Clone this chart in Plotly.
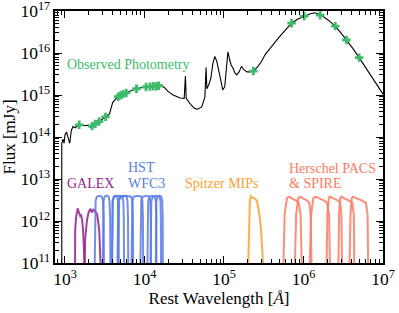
import plotly.graph_objects as go

# model SED (rest wavelength in Angstrom, flux in mJy)
sed_wave = [912, 912, 944, 977, 1000, 1047, 1096, 1148, 1202, 1259, 1349, 1479, 1585,
            1778, 1995, 2138, 2239, 2512, 2818, 3311, 3631, 3981, 4467, 5012, 5623,
            6310, 7943, 10000, 12590, 15490, 17780, 19950, 22910, 28180, 31620, 32730,
            33500, 38020, 42660, 46770, 52480, 57540, 59570, 60950, 64570, 68390,
            72440, 76740, 81280, 85110, 90160, 96600, 102300, 108400, 112200, 117500,
            123000, 128800, 138000, 144500, 154900, 166000, 177800, 195000, 213800,
            234400, 263000, 295100, 331100, 380200, 436500, 501200, 602600, 707900,
            851100, 1023000, 1202000, 1380000, 1622000, 1995000, 2512000, 2951000,
            3467000, 4169000, 5012000, 6310000, 7943000, 10000000]
sed_flux = [1e11, 7.1e13, 8.9e13, 7.1e13, 1.12e14, 1.32e14, 9.5e13, 7.1e13, 1.41e14,
            1.78e14, 1.66e14, 1.95e14, 2.0e14, 1.86e14, 1.91e14, 1.66e14, 1.82e14,
            2.14e14, 2.51e14, 3.02e14, 3.55e14, 6.6e14, 8.5e14, 9.55e14, 1.10e15,
            1.20e15, 1.41e15, 1.55e15, 1.62e15, 1.74e15, 1.51e15, 1.20e15, 1.0e15,
            8.5e14, 8.3e14, 2.82e15, 8.3e14, 6.0e14, 4.8e14, 4.6e14, 5.2e14, 8.9e14,
            4.5e15, 1.41e15, 1.78e15, 2.51e15, 5.6e15, 8.3e15, 6.3e15, 4.0e15, 2.51e15,
            1.32e15, 1.58e15, 5.0e15, 1.07e16, 7.1e15, 5.2e15, 4.5e15, 3.3e15, 3.0e15,
            3.55e15, 4.8e15, 4.0e15, 3.55e15, 3.55e15, 3.72e15, 4.6e15, 6.2e15, 9.3e15,
            1.29e16, 1.82e16, 2.45e16, 3.63e16, 5.13e16, 6.46e16, 7.59e16, 8.5e16,
            9.1e16, 8.3e16, 6.3e16, 4.37e16, 3.02e16, 2.04e16, 1.29e16, 7.76e15,
            3.98e15, 2.04e15, 1.05e15]

# observed photometry
phot_wave = [1510, 2190, 2400, 2690, 3240, 4680, 5010, 5370, 5890, 7940, 10470, 11750,
             12880, 14130, 15140, 234400, 708000, 1020000, 1620000, 2510000, 3470000,
             5010000]
phot_flux = [1.95e14, 1.82e14, 2.04e14, 2.34e14, 3.02e14, 9.12e14, 9.77e14, 1.05e15,
             1.12e15, 1.41e15, 1.55e15, 1.58e15, 1.62e15, 1.62e15, 1.66e15, 3.72e15,
             5.13e16, 7.59e16, 7.94e16, 4.37e16, 2.04e16, 7.76e15]

# filter curves (wavelength lists, with the flux profile each instrument is drawn at)
galex_waves = [
    [1340, 1345, 1380, 1445, 1500, 1560, 1600, 1650, 1700, 1740, 1760],
    [1770, 1800, 1900, 2000, 2100, 2180, 2280, 2380, 2550, 2700, 2800],
]
galex_fluxes = [
    [1e11, 6e11, 1.2e12, 2.0e12, 1.6e12, 1.3e12, 1.35e12, 1.05e12, 5e11, 2e11, 1e11],
    [1e11, 4e11, 1.1e12, 1.7e12, 1.95e12, 1.6e12, 1.85e12, 1.75e12, 1.4e12, 6e11, 1e11],
]

hst_waves = [
    [2370, 2390, 2430, 2520, 2700, 2900, 3010, 3070, 3100],
    [2990, 3010, 3060, 3150, 3350, 3550, 3640, 3700, 3730],
    [3930, 3950, 4000, 4100, 4330, 4550, 4640, 4700, 4730],
    [3880, 3910, 3980, 4150, 4700, 5250, 5420, 5500, 5540],
    [4580, 4610, 4690, 4880, 5400, 5950, 6120, 6210, 6250],
    [4680, 4710, 4800, 5030, 5900, 6800, 7050, 7160, 7200],
    [6880, 6930, 7050, 7350, 8200, 9100, 9420, 9570, 9620],
    [8900, 8960, 9120, 9500, 10500, 11500, 11850, 12030, 12100],
    [10900, 10970, 11150, 11600, 12500, 13500, 13900, 14080, 14150],
    [11900, 11980, 12200, 12800, 14000, 15400, 15900, 16080, 16150],
    [13900, 13970, 14150, 14600, 15400, 16300, 16750, 16970, 17050],
]
hst_profile = [1e11, 1.2e12, 3.0e12, 3.8e12, 4.0e12, 3.8e12, 3.0e12, 1.2e12, 1e11]

mips_wave = [202000, 206000, 212000, 218000, 228000, 245000, 260000, 278000, 293000,
             303000, 310000]
mips_flux = [1e11, 1e12, 3.2e12, 3.9e12, 3.6e12, 3.4e12, 3.0e12, 1.5e12, 6e11, 2e11, 1e11]

herschel_waves = [
    [560000, 580000, 620000, 660000, 720000, 800000, 870000, 920000, 950000],
    [780000, 810000, 860000, 910000, 1000000, 1100000, 1180000, 1230000, 1260000],
    [1200000, 1250000, 1330000, 1420000, 1600000, 1800000, 1980000, 2100000, 2150000],
    [1950000, 2000000, 2080000, 2150000, 2400000, 2700000, 2900000, 3000000, 3050000],
    [2750000, 2800000, 2900000, 3000000, 3300000, 3700000, 4100000, 4300000, 4350000],
    [3800000, 3900000, 4050000, 4200000, 4700000, 5400000, 6100000, 6400000, 6500000],
]
herschel_profile = [1e11, 1.5e12, 3.5e12, 3.8e12, 3.4e12, 3.1e12, 2.7e12, 1.4e12, 1e11]

GREEN = "#3dbb6b"
PURPLE = "#931f8d"
BLUE = "#5a7de8"
ORANGE = "#ffa030"
SALMON = "#ff7a62"
FONT = "Liberation Serif"

fig = go.Figure()


def add_filter(wave, flux, color):
    fig.add_trace(go.Scatter(x=wave, y=flux, mode="lines", opacity=0.85,
                             line=dict(color=color, width=2), hoverinfo="skip"))


for w, f in zip(galex_waves, galex_fluxes):
    add_filter(w, f, PURPLE)
for w in hst_waves:
    add_filter(w, hst_profile, BLUE)
add_filter(mips_wave, mips_flux, ORANGE)
for w in herschel_waves:
    add_filter(w, herschel_profile, SALMON)

fig.add_trace(go.Scatter(x=sed_wave, y=sed_flux, mode="lines",
                         line=dict(color="black", width=1.1)))
fig.add_trace(go.Scatter(x=phot_wave, y=phot_flux, mode="markers",
                         marker=dict(symbol="cross", size=7, color=GREEN,
                                     line=dict(width=0))))

axis_style = dict(
    type="log", dtick=1, exponentformat="power", automargin=False,
    ticklabeloverflow="allow",
    showline=True, linewidth=2, linecolor="black", mirror="allticks",
    ticks="inside", ticklen=7, tickwidth=1.3, tickcolor="black",
    minor=dict(ticks="inside", ticklen=4, tickwidth=1, tickcolor="black",
               dtick="D1", showgrid=False),
    showgrid=False, zeroline=False,
    tickfont=dict(family=FONT, size=14, color="black"),
)

fig.update_layout(
    width=399, height=313,
    margin=dict(l=55, r=16, t=11, b=50),
    paper_bgcolor="white", plot_bgcolor="white",
    showlegend=False,
    font=dict(family=FONT, color="black"),
    xaxis=dict(axis_style, range=[2.875, 7],
               title=dict(text="Rest Wavelength [<i>Å</i>]",
                          font=dict(family=FONT, size=17), standoff=4)),
    yaxis=dict(axis_style, range=[11, 17],
               title=dict(text="Flux [mJy]",
                          font=dict(family=FONT, size=17), standoff=4)),
)

labels = [
    ("Observed Photometry", 0.03, 0.787, GREEN),
    ("GALEX", 0.03, 0.316, PURPLE),
    ("HST", 0.217, 0.379, BLUE),
    ("WFC3", 0.217, 0.316, BLUE),
    ("Spitzer MIPs", 0.39, 0.316, ORANGE),
    ("Herschel PACS", 0.707, 0.375, SALMON),
    ("& SPIRE", 0.707, 0.316, SALMON),
]
for text, x, y, color in labels:
    fig.add_annotation(text=text, x=x, y=y, xref="paper", yref="paper",
                       xanchor="left", yanchor="middle", showarrow=False,
                       font=dict(family=FONT, size=14, color=color))

# the page's default body margin would push the 399x313 figure off the window
fig.write_html("out.html", config={"displayModeBar": False},
               post_script="document.body.style.margin = '0px';")
